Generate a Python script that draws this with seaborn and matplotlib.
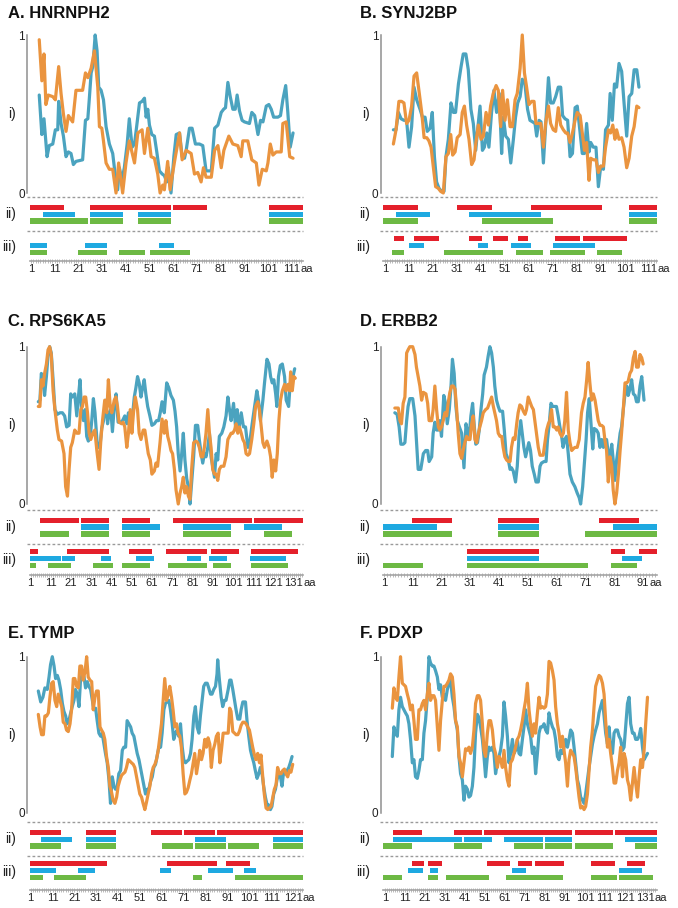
import matplotlib
matplotlib.use("Agg")
import matplotlib.pyplot as plt
import seaborn as sns
import pandas as pd
from matplotlib.ticker import FixedLocator, MultipleLocator

LINE_BLUE = "#4ba3bf"
LINE_ORANGE = "#ea943f"
BAR_COLORS = {"red": "#e4202b", "blue": "#1ea9e1", "green": "#6db944"}
GRAY = "#8f8f8f"

# ---------------- A. HNRNPH2 ----------------
a_title = "A. HNRNPH2"
a_span = (0.6, 115.8)
a_ticks = [1, 11, 21, 31, 41, 51, 61, 71, 81, 91, 101, 111]
a_blue = [(4.5, .62), (5.6, .37), (6.5, .47), (7.8, .23), (8.7, .30), (10.2, .31), (11.3, .40), (12.3, .40),
          (12.7, .58), (13.7, .44), (14.7, .36), (15.8, .23), (16.8, .26), (17.9, .25), (18.9, .18), (20, .20),
          (22.8, .21), (24, .46), (25, .47), (25.6, .59), (26.4, .76), (27.1, .80), (28.1, 1.0), (28.9, .90),
          (29.6, .67), (30.6, .65), (31.6, .59), (32.7, .42), (34.1, .31), (35.5, .25), (36.6, .11), (37.6, .02),
          (38.3, .16), (39.4, .08), (40.4, .16), (41.6, .31), (42.5, .47), (43.7, .29), (44.7, .31), (45.6, .42),
          (46.8, .57), (47.9, .58), (48.9, .60), (49.6, .48), (50.3, .53), (51, .43), (52, .37), (53.1, .36),
          (54.1, .26), (55.2, .14), (56.4, .12), (57.3, .11), (58.3, .07), (59, .16), (60.1, .0), (61.3, .23),
          (62.3, .37), (63.7, .38), (64.8, .23), (65.8, .22), (66.5, .27), (67.9, .41), (69, .41), (70.4, .31),
          (72.1, .31), (73.5, .30), (74.9, .14), (77.1, .14), (78.5, .41), (79.9, .43), (81.3, .51), (82.3, .53),
          (83.1, .54), (84.1, .70), (85.1, .61), (86.2, .53), (87.2, .53), (88, .62), (89, .52), (90.1, .46),
          (91.1, .45), (93.2, .44), (94.2, .51), (95.4, .49), (96.8, .37), (97.9, .46), (98.9, .45), (100.3, .55),
          (101.4, .56), (102.4, .53), (103.4, .48), (105.2, .48), (106.3, .49), (107.3, .59), (108.5, .68),
          (109.4, .51), (110.4, .29), (111.6, .38)]
a_orange = [(4.5, .97), (5.6, .71), (6.5, .88), (7.3, .56), (8.3, .62), (10.2, .61), (11.3, .59), (12.7, .80),
            (13.7, .63), (14.7, .50), (15.8, .39), (16.8, .49), (18.6, .45), (20, .65), (22.8, .65), (24, .76),
            (25, .73), (26.4, .79), (27.8, .90), (29.2, .67), (29.9, .42), (30.9, .41), (31.6, .33), (32.7, .19),
            (34.1, .15), (35.5, .15), (36.9, .0), (38, .19), (39.7, .0), (41.1, .19), (42.5, .33), (44.7, .19),
            (46.1, .38), (47.9, .40), (48.9, .25), (50.3, .41), (51.7, .23), (53.1, .22), (54.5, .12), (55.5, .0),
            (56.6, .05), (57.3, .02), (58.7, .20), (59.7, .02), (61.6, .20), (63.7, .38), (64.8, .21), (66.5, .27),
            (68.6, .25), (70, .12), (71.4, .13), (72.8, .07), (73.8, .16), (74.9, .10), (77.1, .10), (78.5, .27),
            (79.9, .30), (81.3, .16), (82.4, .27), (84.5, .36), (86.2, .31), (88.3, .30), (89.7, .23), (90.4, .33),
            (92.5, .33), (94.2, .21), (96.1, .19), (97.2, .05), (98.6, .15), (100.3, .14), (101, .19), (102, .31),
            (103.1, .24), (104.5, .26), (106.6, .26), (107.3, .44), (108.7, .45), (110.2, .23), (111.6, .22)]
a_ii_red = [(0.6, 14.8), (25.9, 60.2), (61.1, 75.2), (101.4, 115.8)]
a_ii_blue = [(5.9, 19.7), (25.9, 40), (46.1, 60.2), (101.4, 115.8)]
a_ii_green = [(0.6, 24.9), (25.9, 40), (46.1, 60.2), (101.4, 115.8)]
a_iii_red = []
a_iii_blue = [(0.6, 7.8), (24, 33), (55.2, 61.3)]
a_iii_green = [(0.6, 7.8), (21, 33), (38, 49.2), (51.3, 68.2)]

# ---------------- B. SYNJ2BP ----------------
b_title = "B. SYNJ2BP"
b_span = (0.3, 114.2)
b_ticks = [1, 11, 21, 31, 41, 51, 61, 71, 81, 91, 101, 111]
b_blue = [(4.5, .40), (5.6, .40), (6.6, .51), (7.7, .47), (8.9, .46), (10, .46), (11, .29), (12.1, .42), (13.1, .67),
          (14.2, .59), (15.6, .53), (16.6, .48), (17.7, .48), (18.6, .39), (19.8, .41), (20.7, .51), (21.6, .23),
          (22.5, .07), (23.5, .03), (24.6, .01), (25.6, .01), (26.4, .23), (27.4, .34), (28.5, .57), (29.5, .51),
          (30.4, .51), (31.6, .69), (32.7, .80), (33.6, .88), (34.7, .88), (35.7, .78), (36.8, .53), (37.8, .44),
          (38.8, .27), (39.6, .40), (40.6, .55), (41.6, .27), (42.4, .29), (43.4, .38), (44.3, .29), (45.4, .51),
          (46.4, .65), (47.5, .51), (48.6, .63), (49.6, .25), (50.3, .48), (51.3, .36), (52.4, .34), (53.4, .19),
          (54.5, .34), (55.4, .48), (56.3, .57), (57.3, .61), (58.2, .72), (59.3, .69), (60.4, .53), (61.4, .46),
          (62.5, .45), (63.5, .44), (64.2, .36), (65.2, .46), (66, .45), (67, .19), (67.9, .42), (69.1, .73),
          (70, .57), (71.1, .57), (72.1, .61), (73.2, .67), (74.2, .67), (75, .49), (76, .47), (77.1, .46),
          (78.1, .23), (79.1, .25), (80.2, .54), (81.1, .55), (82.3, .38), (83.2, .25), (84.1, .25), (85, .44),
          (86, .26), (86.7, .32), (87.8, .29), (88.9, .29), (89.9, .04), (90.9, .17), (92, .15), (92.9, .40),
          (94.1, .43), (94.8, .63), (95.7, .46), (96.6, .69), (97.5, .67), (98.5, .82), (99.6, .77), (100.6, .57),
          (101.7, .36), (102.7, .61), (103.8, .63), (104.8, .78), (105.9, .78), (106.8, .67)]
b_orange = [(4.5, .31), (5.6, .40), (6.8, .58), (7.9, .58), (8.9, .57), (10, .44), (11, .46), (12.1, .55),
            (13.1, .74), (14.2, .76), (15.3, .63), (16.3, .51), (17.3, .35), (18.4, .35), (19.3, .33), (20.2, .29),
            (21.1, .17), (22.1, .04), (23.2, .03), (24.2, .01), (25.3, .0), (26.4, .23), (27.4, .25), (28.4, .37),
            (29.2, .24), (30.2, .26), (31.1, .35), (32.3, .37), (33.2, .51), (34.1, .55), (35, .43), (36, .34),
            (37.1, .18), (38.1, .21), (38.9, .32), (39.9, .43), (41, .34), (42, .36), (43.1, .51), (44.1, .43),
            (45, .55), (46.1, .63), (47.3, .68), (48.2, .65), (49.2, .42), (50, .65), (51, .46), (52, .59),
            (53.1, .42), (54.1, .42), (55.2, .59), (56.1, .63), (57.3, .79), (58.2, 1.0), (59.1, .76), (60, .67),
            (61, .56), (62.1, .58), (63.1, .58), (63.9, .44), (64.9, .44), (65.9, .44), (67, .29), (67.9, .44),
            (69.1, .55), (70, .44), (71.1, .40), (72.1, .39), (73.2, .54), (74.2, .43), (75.3, .40), (76.3, .38),
            (77.1, .38), (78.1, .32), (79.1, .38), (80.2, .46), (81.1, .51), (82.3, .49), (83.2, .38), (84.1, .27),
            (85, .32), (86, .08), (86.7, .22), (87.8, .21), (88.9, .21), (89.9, .13), (90.9, .17), (92, .17),
            (92.9, .29), (94.1, .40), (95, .38), (95.9, .43), (96.8, .34), (97.5, .40), (98.5, .34), (99.6, .35),
            (100.6, .29), (101.7, .16), (102.7, .22), (103.8, .36), (104.8, .42), (105.9, .55), (106.8, .54)]
b_ii_red = [(0.3, 14.6), (31.1, 45.4), (61.8, 91.6), (102.8, 114.2)]
b_ii_blue = [(5.4, 19.8), (36.1, 65.9), (102.8, 114.2)]
b_ii_green = [(0.3, 14.6), (41.3, 70.9), (102.8, 114.2)]
b_iii_red = [(4.9, 9.1), (13.2, 23.5), (35.9, 41.3), (46.1, 52.4), (56.6, 60.7), (72, 82.3), (83.4, 102)]
b_iii_blue = [(11.1, 17.4), (39.9, 44.1), (53.4, 61.7), (70.9, 88.5)]
b_iii_green = [(3.8, 9.1), (25.6, 50.3), (55.4, 66.7), (69.9, 84.3), (89.5, 99.9)]

# ---------------- C. RPS6KA5 ----------------
c_title = "C. RPS6KA5"
c_span = (0.7, 135.5)
c_ticks = [1, 11, 21, 31, 41, 51, 61, 71, 81, 91, 101, 111, 121, 131]
c_blue = [(4.8, .65), (5.6, .66), (6.3, .83), (7.1, .79), (7.9, .69), (8.8, .81), (9.6, .94), (10.4, 1.0),
          (11.2, .96), (12.1, .79), (13, .60), (14.2, .57), (15.5, .58), (16.7, .58), (17.8, .56), (18.8, .49),
          (20, .50), (20.8, .70), (21.6, .68), (22.8, .70), (23.8, .56), (24.6, .68), (25.4, .79), (26.2, .58),
          (27.1, .53), (27.9, .60), (28.7, .43), (29.5, .40), (30.4, .42), (31.2, .53), (32, .67), (32.8, .58),
          (34, .36), (35.2, .36), (36.1, .48), (37, .53), (38.1, .66), (39, .51), (39.8, .58), (40.6, .60),
          (41.4, .46), (42.3, .62), (43.2, .70), (44.2, .52), (45.2, .52), (46.4, .53), (47.5, .56), (48.5, .51),
          (49.3, .58), (50.5, .51), (51.3, .56), (52.2, .68), (53, .74), (53.8, .81), (54.6, .77), (55.5, .68),
          (56.3, .74), (57.1, .79), (57.9, .70), (58.8, .62), (59.9, .56), (60.9, .50), (62.1, .51), (63.2, .53),
          (64.2, .53), (65, .58), (65.9, .65), (67, .58), (68.2, .77), (69.2, .74), (70.3, .69), (71.5, .66),
          (72.3, .59), (73.1, .49), (73.9, .32), (74.8, .21), (75.6, .32), (76.4, .45), (77.2, .28), (78.1, .16),
          (78.9, .11), (79.7, .0), (80.5, .13), (81.5, .30), (82.4, .50), (83.5, .50), (84.3, .41), (85.2, .32),
          (86, .26), (86.8, .32), (87.6, .30), (88.5, .36), (89.3, .45), (90.1, .30), (90.9, .24), (91.8, .17),
          (92.6, .32), (93.4, .28), (94.2, .43), (95.4, .45), (96.4, .49), (97.5, .56), (98.4, .68), (99.2, .60),
          (100, .53), (101.2, .64), (102.2, .49), (103, .60), (103.8, .47), (105, .58), (106.1, .49), (107.1, .49),
          (108.3, .36), (109.4, .41), (110.4, .51), (111.6, .62), (112.7, .72), (113.5, .66), (114.5, .53),
          (115.7, .66), (116.5, .77), (117.7, .92), (118.7, .89), (119.5, .81), (120.3, .77), (121.1, .79),
          (122, .70), (122.6, .62), (123.4, .81), (124.3, .88), (125.3, .89), (126.4, .81), (127.2, .66),
          (128.4, .62), (129.2, .77), (130.2, .79), (131.4, .86)]
c_orange = [(4.8, .62), (5.6, .62), (6.3, .79), (7.1, .75), (7.9, .83), (8.8, .89), (9.6, .98), (10.4, 1.0),
            (11.2, .95), (12.1, .72), (13, .60), (14.2, .47), (15, .41), (16.3, .40), (17.5, .32), (18.3, .11),
            (19.2, .05), (20, .22), (20.8, .36), (21.6, .39), (22.8, .47), (23.8, .45), (24.9, .45), (25.8, .60),
            (26.6, .62), (27.4, .68), (28.2, .68), (29.1, .58), (29.9, .45), (30.7, .41), (31.7, .45), (32.7, .47),
            (33.7, .34), (34.8, .22), (35.7, .41), (36.5, .53), (37.6, .66), (38.6, .58), (39.4, .79), (40.3, .62),
            (41.1, .58), (42.3, .66), (43.1, .68), (43.9, .62), (44.7, .52), (45.9, .51), (46.7, .52), (47.5, .49),
            (48.5, .36), (49.3, .45), (50.2, .60), (51, .45), (51.8, .58), (52.7, .68), (53.8, .60), (54.6, .45),
            (55.5, .41), (56.6, .47), (57.4, .47), (58.3, .39), (59.1, .32), (60.1, .28), (60.9, .19), (62.1, .21),
            (62.9, .26), (63.7, .24), (64.9, .39), (65.9, .54), (67, .45), (67.8, .53), (68.7, .43), (69.5, .39),
            (70.3, .34), (71.1, .32), (72, .22), (72.8, .09), (73.9, .0), (74.8, .07), (75.6, .11), (76.4, .17),
            (77.2, .07), (78.1, .11), (78.9, .05), (79.7, .03), (80.5, .22), (81.5, .39), (82.7, .40), (83.5, .39),
            (84.3, .36), (85.2, .30), (86, .30), (86.8, .36), (87.6, .45), (88.5, .60), (89.3, .45), (90.1, .36),
            (90.9, .22), (91.8, .19), (92.6, .19), (93.4, .15), (94.2, .22), (95.1, .24), (96.4, .24), (97.5, .30),
            (98.4, .41), (100, .45), (100.8, .45), (101.7, .47), (102.5, .51), (103.3, .45), (104.1, .49),
            (105, .45), (105.8, .41), (106.6, .39), (107.4, .32), (108.3, .31), (109.1, .32), (110.2, .41),
            (111.2, .51), (112.1, .62), (113.2, .65), (114, .60), (114.9, .49), (115.7, .39), (116.5, .36),
            (117.7, .40), (118.7, .36), (119.5, .30), (120.3, .17), (121.1, .28), (122, .21), (122.8, .32),
            (123.6, .53), (124.4, .66), (125.3, .72), (126.4, .76), (127.2, .72), (128.1, .76), (128.9, .72),
            (129.4, .84), (130.2, .72), (131, .81), (131.7, .80)]
c_ii_red = [(5.6, 24.9), (25.8, 39.8), (45.9, 59.9), (71.1, 110.2), (111.2, 135.5)]
c_ii_blue = [(25.8, 39.8), (45.9, 65), (76.1, 100), (106.3, 125.3)]
c_ii_green = [(5.6, 20), (25.8, 39.8), (45.9, 59.9), (76.1, 100), (116.2, 130.2)]
c_iii_red = [(0.7, 4.6), (18.8, 39.8), (49.8, 60.9), (67.8, 88), (90.1, 104.1), (109.9, 133)]
c_iii_blue = [(0.7, 15.9), (16.7, 22.8), (35.7, 40.9), (53, 61.7), (78.1, 85.2), (89, 98), (109.1, 127.2)]
c_iii_green = [(0.7, 3.5), (9.7, 20.8), (31.9, 41.9), (45.9, 59.9), (69, 88), (91.3, 100), (109.9, 128.1)]

# ---------------- D. ERBB2 ----------------
d_title = "D. ERBB2"
d_span = (0.8, 95.7)
d_ticks = [1, 11, 21, 31, 41, 51, 61, 71, 81, 91]
d_blue = [(4.8, .58), (5.6, .57), (6.3, .49), (6.9, .38), (7.7, .38), (8.3, .39), (8.9, .53), (9.4, .62), (10, .67),
          (11, .67), (11.8, .56), (12.3, .41), (12.9, .22), (13.8, .22), (14.7, .32), (15.5, .34), (16.2, .34),
          (16.7, .27), (17.6, .30), (18.1, .45), (18.7, .52), (19.3, .47), (19.9, .47), (20.4, .53), (21, .43),
          (21.8, .69), (22.4, .64), (23, .51), (23.7, .60), (24.3, .75), (24.8, .92), (25.4, .83), (26, .62),
          (26.5, .53), (27.2, .49), (28, .45), (28.8, .23), (29.5, .51), (30.1, .45), (30.6, .43), (31.2, .56),
          (31.8, .64), (32.4, .49), (32.9, .38), (33.5, .39), (34.1, .47), (34.7, .60), (35.3, .70), (35.8, .82),
          (36.6, .87), (37.2, .94), (37.8, 1.0), (38.4, .96), (39, .87), (39.5, .75), (40.1, .66), (40.7, .62),
          (41.3, .59), (42.2, .59), (42.8, .47), (43.4, .32), (44.2, .28), (44.8, .22), (45.3, .23), (45.9, .21),
          (46.7, .14), (47.3, .24), (47.9, .43), (48.5, .53), (49, .45), (49.6, .36), (50.2, .30), (50.8, .35),
          (51.3, .39), (51.9, .34), (52.5, .24), (53.2, .19), (53.8, .14), (54.6, .14), (55.2, .24), (55.7, .26),
          (56.6, .27), (57.3, .27), (57.8, .41), (58.4, .51), (59, .64), (59.6, .62), (60.1, .62), (60.9, .62),
          (61.5, .56), (62.1, .49), (62.7, .43), (63.2, .36), (63.8, .41), (64.4, .43), (65, .32), (65.6, .19),
          (66.4, .14), (67.3, .11), (68.1, .07), (68.8, .04), (69.3, .0), (70, .11), (70.6, .26), (71.2, .41),
          (71.7, .58), (72.3, .67), (72.9, .51), (73.5, .35), (74, .48), (74.8, .47), (75.4, .45), (76, .36),
          (76.6, .41), (77.2, .36), (77.7, .41), (78.3, .41), (78.9, .32), (79.5, .30), (80.1, .38), (80.6, .28),
          (81.2, .15), (81.8, .28), (82.4, .36), (83, .45), (83.5, .49), (84.1, .60), (84.7, .70), (85.3, .75),
          (85.8, .69), (86.4, .73), (87, .79), (87.6, .70), (88.2, .69), (88.7, .65), (89.3, .65), (89.9, .75),
          (90.5, .81), (91.3, .66)]
d_orange = [(4.8, .61), (6, .61), (6.6, .53), (7.1, .51), (7.7, .64), (8.3, .68), (8.9, .96), (9.4, .98), (10, 1.0),
            (11, 1.0), (11.8, .95), (12.3, .87), (12.9, .81), (13.5, .75), (14.1, .66), (14.7, .71), (15.6, .70),
            (16.2, .64), (16.7, .53), (17.6, .53), (18.1, .60), (18.7, .75), (19.3, .60), (19.9, .49), (20.4, .47),
            (21, .49), (21.6, .53), (22.2, .58), (22.8, .56), (23.3, .64), (23.9, .71), (24.5, .75), (25.1, .75),
            (25.7, .73), (26.2, .62), (26.8, .45), (27.4, .32), (28, .29), (28.5, .34), (29.1, .39), (29.7, .43),
            (30.3, .41), (30.9, .41), (31.4, .50), (32, .56), (32.6, .41), (33.2, .39), (33.8, .45), (34.3, .49),
            (34.9, .53), (35.5, .58), (36.3, .60), (37, .61), (37.6, .64), (38.4, .68), (39, .62), (39.5, .58),
            (40.1, .53), (40.7, .45), (41.3, .43), (41.9, .43), (42.4, .36), (43, .30), (43.6, .28), (44.2, .27),
            (44.8, .27), (45.3, .36), (45.9, .42), (46.5, .41), (47.1, .51), (47.6, .58), (48.2, .63), (48.8, .62),
            (49.4, .59), (50, .57), (50.5, .60), (51.1, .68), (51.7, .65), (52.3, .62), (52.9, .60), (53.4, .53),
            (54, .45), (54.6, .36), (55.2, .31), (56.3, .31), (56.9, .39), (57.5, .47), (58.1, .51), (58.6, .53),
            (59.2, .60), (59.8, .49), (60.4, .49), (61, .47), (61.5, .49), (62.1, .45), (62.7, .43), (63.3, .45),
            (63.8, .53), (64.4, .71), (65, .47), (65.6, .39), (66.2, .34), (66.7, .35), (67.3, .36), (68.1, .36),
            (68.8, .41), (69.6, .58), (70.2, .64), (70.8, .68), (71.4, .79), (71.9, .90), (72.5, .77), (73.1, .66),
            (73.7, .70), (74.3, .66), (74.8, .60), (75.4, .53), (76, .50), (76.6, .50), (77.2, .49), (77.7, .41),
            (78.3, .34), (78.9, .14), (79.5, .30), (80.1, .24), (80.6, .09), (81.2, .0), (81.8, .07), (82.4, .19),
            (83, .34), (83.5, .45), (84.1, .60), (84.7, .77), (85.3, .77), (85.8, .78), (86.4, .83), (87, .85),
            (87.6, .93), (88.2, .97), (88.7, .87), (89.3, .87), (89.9, .95), (90.5, .93), (91, .89)]
d_ii_red = [(10.8, 24.7), (40.7, 54.8), (75.8, 89.7)]
d_ii_blue = [(0.8, 19.6), (40.7, 54.8), (80.6, 95.7)]
d_ii_green = [(0.8, 24.7), (40.7, 54.8), (70.8, 95.7)]
d_iii_red = [(29.7, 54.8), (79.7, 84.7), (89.7, 95.7)]
d_iii_blue = [(29.7, 54.8), (83.8, 90.7)]
d_iii_green = [(0.8, 14.7), (29.7, 71.7), (79.7, 88.7)]

# ---------------- E. TYMP ----------------
e_title = "E. TYMP"
e_span = (0.7, 125.5)
e_ticks = [1, 11, 21, 31, 41, 51, 61, 71, 81, 91, 101, 111, 121]
e_blue = [(4.5, .78), (5.6, .71), (6.6, .74), (7.5, .80), (8.6, .79), (9.4, .87), (10.1, .95), (10.9, 1.0),
          (11.7, .94), (12.4, .86), (13.2, .88), (13.9, .85), (14.7, .79), (15.5, .70), (16.2, .65), (17, .62),
          (17.7, .57), (18.5, .59), (19.3, .64), (20, .68), (20.8, .72), (21.5, .79), (22.3, .76), (23.1, .68),
          (23.8, .85), (24.6, .89), (25.4, .87), (26.1, .80), (26.9, .84), (27.6, .81), (28.4, .79), (29.2, .72),
          (29.9, .66), (30.7, .67), (31.4, .59), (32.2, .51), (33, .49), (33.7, .51), (34.5, .44), (35.2, .38),
          (36, .32), (36.8, .21), (37.5, .06), (38.3, .23), (39.1, .17), (39.8, .15), (40.6, .17), (41.3, .25),
          (42.1, .27), (42.9, .40), (43.6, .42), (44.4, .42), (45.1, .59), (45.9, .57), (46.7, .55), (47.4, .51),
          (48.2, .49), (48.9, .44), (49.7, .38), (50.5, .34), (51.2, .29), (52, .23), (52.8, .17), (53.5, .12),
          (54.3, .15), (55, .15), (55.8, .20), (56.6, .23), (57.3, .29), (58.1, .31), (58.8, .36), (59.6, .42),
          (60.4, .42), (61.1, .51), (61.9, .66), (62.6, .70), (63.4, .71), (64.2, .72), (64.9, .66), (65.7, .57),
          (66.4, .47), (67.2, .51), (68, .53), (68.7, .49), (69.5, .57), (70.3, .42), (71, .34), (71.8, .32),
          (72.5, .33), (73.3, .34), (74.1, .38), (74.8, .47), (75.6, .62), (76.3, .68), (77.1, .55), (77.9, .51),
          (78.6, .62), (79.4, .72), (80.1, .81), (80.9, .83), (81.7, .83), (82.4, .80), (83.2, .76), (83.9, .76),
          (84.7, .79), (85.5, .81), (86.2, .89), (86.5, .98), (87.3, .85), (88.1, .74), (88.8, .68), (89.6, .72),
          (90.3, .72), (91.3, .79), (92, .85), (92.6, .85), (93.4, .79), (94.2, .72), (94.9, .66), (95.7, .60),
          (96.6, .60), (97.2, .66), (98, .71), (99.2, .71), (99.9, .59), (100.7, .49), (101.5, .40), (102.2, .36),
          (103, .32), (103.7, .27), (104.5, .22), (105.3, .25), (106, .29), (106.8, .25), (107.5, .17),
          (108.3, .10), (109.1, .05), (109.8, .05), (110.6, .02), (111.3, .04), (112.1, .12), (112.9, .15),
          (113.6, .21), (114.4, .25), (115.2, .23), (115.9, .17), (116.7, .27), (117.4, .25), (118.2, .27),
          (119, .29), (119.7, .32), (120.5, .36)]
e_orange = [(4.5, .63), (5.3, .55), (6, .50), (6.8, .50), (7.5, .62), (8.3, .62), (9.1, .64), (9.8, .74), (10.6, .83),
            (11.3, .84), (12.1, .72), (12.9, .68), (13.6, .76), (14.4, .72), (15.2, .68), (15.9, .58), (16.7, .57),
            (17.4, .53), (18.2, .52), (19, .57), (19.7, .66), (20.5, .86), (21.2, .86), (22, .81), (22.8, .80),
            (23.5, .94), (24.3, .94), (25, .85), (25.8, .90), (26.6, 1.0), (27.3, .87), (28.1, .85), (28.9, .84),
            (29.6, .66), (30.4, .74), (31.1, .78), (31.9, .78), (32.7, .55), (33.4, .53), (34.2, .51), (34.9, .47),
            (35.7, .36), (36.5, .29), (37.2, .17), (38, .13), (38.7, .08), (39.5, .06), (40.3, .10), (41, .17),
            (41.8, .21), (42.6, .24), (43.3, .25), (44.1, .26), (44.8, .29), (45.6, .34), (46.4, .33), (47.1, .32),
            (47.9, .31), (48.6, .29), (49.4, .23), (50.2, .17), (50.9, .12), (51.7, .10), (52.4, .06), (53.2, .02),
            (54, .07), (54.7, .12), (55.5, .17), (56.3, .25), (57, .29), (57.8, .31), (58.5, .34), (59.3, .40),
            (60.1, .49), (60.8, .57), (61.6, .72), (62.3, .86), (63.1, .72), (63.9, .76), (64.6, .81), (65.4, .74),
            (66.1, .66), (66.9, .55), (67.7, .57), (68.4, .51), (69.2, .49), (69.9, .42), (70.7, .25), (71.5, .12),
            (72.2, .13), (73, .16), (73.8, .21), (74.5, .25), (75.3, .32), (76, .38), (76.8, .25), (77.6, .32),
            (78.3, .40), (79.1, .34), (79.8, .38), (80.6, .47), (81.4, .42), (82.1, .48), (82.9, .44), (83.6, .29),
            (84.4, .40), (85.2, .44), (85.9, .49), (86.7, .51), (87.5, .32), (88.2, .40), (89, .51), (89.7, .51),
            (90.5, .51), (91.3, .51), (92, .67), (92.6, .65), (93.4, .52), (94.2, .51), (94.9, .50), (95.7, .50),
            (96.4, .52), (97.2, .56), (98, .58), (98.7, .58), (99.5, .57), (100.2, .55), (101, .53), (101.8, .47),
            (102.5, .42), (103.3, .37), (104, .34), (104.8, .38), (105.6, .32), (106.3, .37), (107.1, .23),
            (107.8, .12), (108.6, .03), (109.4, .02), (110.1, .03), (110.9, .04), (111.7, .10), (112.4, .15),
            (113.2, .18), (113.9, .29), (114.7, .25), (115.5, .25), (116.2, .27), (117, .28), (117.7, .25),
            (118.5, .23), (119.3, .27), (120, .26), (120.8, .31)]
e_ii_red = [(0.7, 14.7), (26.1, 39.8), (56.1, 70.3), (71.3, 85.2), (86.2, 125.5)]
e_ii_blue = [(5.9, 19.7), (26.1, 39.8), (76.3, 90.3), (111.7, 125.5)]
e_ii_green = [(0.7, 14.7), (26.1, 39.8), (61.1, 75.1), (76.3, 90.3), (91.3, 105.3), (111.7, 125.5)]
e_iii_red = [(0.7, 35.7), (63.1, 86.2), (90.3, 101.2)]
e_iii_blue = [(0.7, 12.7), (22.8, 30.4), (60.1, 65.2), (82.1, 93.4), (98.4, 104.2)]
e_iii_green = [(0.7, 6.8), (11.7, 26.1), (75.1, 79.4), (94.3, 125.5)]

# ---------------- F. PDXP ----------------
f_title = "F. PDXP"
f_span = (0.2, 136.8)
f_ticks = [1, 11, 21, 31, 41, 51, 61, 71, 81, 91, 101, 111, 121, 131]
f_blue = [(4.7, .36), (5.5, .55), (6.3, .51), (7.2, .49), (8, .66), (8.8, .74), (9.7, .68), (10.5, .66), (11.3, .64),
          (12.2, .62), (13, .57), (13.8, .47), (14.7, .32), (15.5, .34), (16.3, .23), (17.2, .22), (18, .27),
          (18.8, .34), (19.7, .34), (20.5, .51), (21.3, .59), (22.2, .74), (23, 1.0), (23.8, .96), (24.7, .94),
          (25.5, .94), (26.3, .91), (27.2, .87), (28, .79), (28.8, .82), (29.7, .74), (30.5, .76), (31.3, .72),
          (32.2, .79), (33, .83), (33.8, .85), (34.7, .74), (35.5, .68), (36.3, .59), (37.2, .53), (38, .36),
          (38.8, .25), (39.7, .21), (40.5, .08), (41.3, .17), (42.2, .15), (43, .10), (43.8, .11), (44.7, .17),
          (45.5, .29), (46.3, .51), (47.2, .63), (48, .61), (48.8, .55), (49.7, .47), (50.5, .36), (51.3, .23),
          (52.2, .36), (53, .42), (53.8, .40), (54.7, .42), (55.5, .38), (56.3, .25), (57.2, .32), (58, .36),
          (58.8, .40), (59.7, .49), (60.5, .71), (61.3, .62), (62.2, .49), (63, .32), (63.8, .38), (64.7, .47),
          (65.5, .38), (66.3, .40), (67.2, .47), (68, .38), (68.8, .37), (69.7, .47), (70.5, .55), (71.3, .66),
          (72.2, .57), (73, .53), (73.8, .49), (74.7, .38), (75.5, .42), (76.3, .25), (77.2, .38), (78, .51),
          (78.8, .55), (79.7, .55), (80.5, .57), (81.3, .53), (82.2, .51), (83, .64), (83.8, .59), (84.7, .55),
          (85.5, .53), (86.3, .47), (87.2, .36), (88, .34), (88.8, .40), (89.7, .38), (90.5, .42), (91.3, .47),
          (92.2, .42), (93, .47), (93.8, .53), (94.7, .51), (95.5, .42), (96.3, .32), (97.2, .21), (98, .17),
          (98.8, .10), (99.7, .08), (100.5, .06), (101.3, .12), (102.2, .21), (103, .29), (103.8, .36),
          (104.7, .44), (105.5, .49), (106.3, .53), (107.2, .57), (108, .64), (108.8, .68), (109.7, .72),
          (110.5, .62), (111.3, .51), (112.2, .44), (113, .55), (113.8, .42), (114.7, .38), (115.5, .51),
          (116.3, .53), (117.2, .53), (118, .49), (118.8, .47), (119.7, .40), (120.5, .42), (121.3, .55),
          (122.2, .70), (123, .74), (123.8, .57), (124.7, .51), (125.5, .51), (126.3, .47), (127.2, .47),
          (128, .49), (128.8, .54), (129.7, .42), (130.5, .34), (131.3, .36), (132.2, .38)]
f_orange = [(4.7, .67), (5.5, .80), (6.3, .74), (7.2, .72), (8, .87), (8.8, 1.0), (9.7, .83), (10.5, .82), (11.3, .81),
            (12.2, .76), (13, .72), (13.8, .66), (14.7, .69), (15.5, .59), (16.3, .47), (17.2, .47), (18, .66),
            (18.8, .66), (19.7, .70), (20.5, .72), (21.3, .66), (22.2, .76), (23, .83), (23.8, .72), (24.7, .75),
            (25.5, .75), (26.3, .72), (27.2, .55), (28, .40), (28.8, .59), (29.7, .72), (30.5, .81), (31.3, .81),
            (32.2, .83), (33, .85), (33.8, .89), (34.7, .87), (35.5, .76), (36.3, .59), (37.2, .55), (38, .36),
            (38.8, .32), (39.7, .23), (40.5, .32), (41.3, .41), (42.2, .40), (43, .42), (43.8, .38), (44.7, .42),
            (45.5, .53), (46.3, .70), (47.2, .75), (48, .75), (48.8, .72), (49.7, .57), (50.5, .40), (51.3, .36),
            (52.2, .51), (53, .59), (53.8, .59), (54.7, .53), (55.5, .42), (56.3, .38), (57.2, .29), (58, .36),
            (58.8, .34), (59.7, .29), (60.5, .40), (61.3, .29), (62.2, .21), (63, .17), (63.8, .32), (64.7, .34),
            (65.5, .38), (66.3, .42), (67.2, .47), (68, .49), (68.8, .53), (69.7, .59), (70.5, .66), (71.3, .72),
            (72.2, .83), (73, .66), (73.8, .57), (74.7, .49), (75.5, .57), (76.3, .51), (77.2, .64), (78, .74),
            (78.8, .67), (79.7, .68), (80.5, .67), (81.3, .68), (82.2, .76), (83, .97), (83.8, .96), (84.7, .91),
            (85.5, .85), (86.3, .68), (87.2, .57), (88, .51), (88.8, .42), (89.7, .49), (90.5, .40), (91.3, .32),
            (92.2, .17), (93, .34), (93.8, .40), (94.7, .38), (95.5, .36), (96.3, .29), (97.2, .19), (98, .10),
            (98.8, .03), (99.7, .04), (100.5, .02), (101.3, .04), (102.2, .12), (103, .27), (103.8, .42),
            (104.7, .53), (105.5, .68), (106.3, .81), (107.2, .85), (108, .88), (108.8, .87), (109.7, .83),
            (110.5, .76), (111.3, .59), (112.2, .42), (113, .47), (113.8, .38), (114.7, .29), (115.5, .19),
            (116.3, .19), (117.2, .27), (118, .32), (118.8, .42), (119.7, .23), (120.5, .38), (121.3, .34),
            (122.2, .21), (123, .17), (123.8, .08), (124.7, .19), (125.5, .29), (126.3, .19), (127.2, .10),
            (128, .23), (128.8, .34), (129.7, .29), (130.5, .40), (131.3, .57), (132.2, .74)]
f_ii_red = [(5.2, 19.3), (35.7, 49.3), (50.7, 94.7), (96, 114.8), (116, 136.8)]
f_ii_blue = [(5.2, 39.3), (40.5, 54.7), (60.7, 79.8), (81, 94.7), (121, 136.8)]
f_ii_green = [(0.2, 14.3), (35.7, 49.3), (65.7, 79.8), (81, 94.7), (96, 114.8), (126, 136.8)]
f_iii_red = [(14.3, 20.5), (22.3, 29.3), (51.8, 63.5), (67.7, 74.7), (76, 90.7), (103.8, 116), (122.2, 131)]
f_iii_blue = [(12.3, 20.2), (23.5, 27.3), (64.7, 71.5), (118, 129.3)]
f_iii_green = [(0.2, 9.3), (22.3, 27.3), (31.5, 53), (61.5, 89.8), (103.8, 116.8), (118, 135.2)]


def bars(ii_r, ii_b, ii_g, iii_r, iii_b, iii_g):
    return {("ii", "red"): ii_r, ("ii", "blue"): ii_b, ("ii", "green"): ii_g,
            ("iii", "red"): iii_r, ("iii", "blue"): iii_b, ("iii", "green"): iii_g}


panels = [
    dict(title=a_title, span=a_span, ticks=a_ticks, blue=a_blue, orange=a_orange,
         bars=bars(a_ii_red, a_ii_blue, a_ii_green, a_iii_red, a_iii_blue, a_iii_green)),
    dict(title=b_title, span=b_span, ticks=b_ticks, blue=b_blue, orange=b_orange,
         bars=bars(b_ii_red, b_ii_blue, b_ii_green, b_iii_red, b_iii_blue, b_iii_green)),
    dict(title=c_title, span=c_span, ticks=c_ticks, blue=c_blue, orange=c_orange,
         bars=bars(c_ii_red, c_ii_blue, c_ii_green, c_iii_red, c_iii_blue, c_iii_green)),
    dict(title=d_title, span=d_span, ticks=d_ticks, blue=d_blue, orange=d_orange,
         bars=bars(d_ii_red, d_ii_blue, d_ii_green, d_iii_red, d_iii_blue, d_iii_green)),
    dict(title=e_title, span=e_span, ticks=e_ticks, blue=e_blue, orange=e_orange,
         bars=bars(e_ii_red, e_ii_blue, e_ii_green, e_iii_red, e_iii_blue, e_iii_green)),
    dict(title=f_title, span=f_span, ticks=f_ticks, blue=f_blue, orange=f_orange,
         bars=bars(f_ii_red, f_ii_blue, f_ii_green, f_iii_red, f_iii_blue, f_iii_green)),
]

# layout in pixels
FIG_W, FIG_H = 678, 908
COL_X = [(30, 303), (383.3, 656.7)]
TITLE_X = [8, 360]
LABEL_X = [16, 370]
ROWS = [
    dict(title=13, top=35, bottom=193, sep=197.3, axis=261),
    dict(title=322, top=346.7, bottom=504, sep=510, axis=575),
    dict(title=633, top=656.7, bottom=812.7, sep=822.3, axis=890),
]
BAR_ROWS = {"ii": [10.3, 17.0, 23.8], "iii": [41.2, 48.2, 55.2]}
SEP2 = 33.8
BAR_H = 5.4


def rect(x0, y0, x1, y1):
    return [x0 / FIG_W, 1 - y1 / FIG_H, (x1 - x0) / FIG_W, (y1 - y0) / FIG_H]


sns.set_theme(style="white")
plt.rcParams["font.family"] = ["Liberation Sans", "DejaVu Sans"]

fig = plt.figure(figsize=(FIG_W / 100, FIG_H / 100), dpi=100)
aa_targets = []


def draw_panel(p, col, row):
    x0, x1 = COL_X[col]
    r = ROWS[row]
    fig.text(TITLE_X[col] / FIG_W, 1 - r["title"] / FIG_H, p["title"], fontsize=12,
             fontweight="bold", ha="left", va="center", color="#111")

    # profile plot
    ax = fig.add_axes(rect(x0, r["top"], x1, r["bottom"]))
    ax.patch.set_alpha(0)
    for pairs, c in ((p["blue"], LINE_BLUE), (p["orange"], LINE_ORANGE)):
        df = pd.DataFrame(pairs, columns=["pos", "score"])
        sns.lineplot(data=df, x="pos", y="score", color=c, linewidth=2.3,
                     estimator=None, sort=False, ax=ax)
    for ln in ax.lines:
        ln.set_clip_on(False)
    ax.set_xlim(p["span"])
    ax.set_ylim(0, 1)
    ax.set_xlabel("")
    ax.set_ylabel("")
    for s in ("top", "right", "bottom"):
        ax.spines[s].set_visible(False)
    ax.spines["left"].set_color(GRAY)
    ax.spines["left"].set_linewidth(1.1)
    ax.spines["left"].set_position(("outward", 2))
    ax.set_xticks([])
    ax.set_yticks([0, 1])
    ax.set_yticklabels(["0", "1"])
    ax.tick_params(axis="y", direction="in", length=2, width=1, color=GRAY,
                   pad=1.5, labelsize=8.5, labelcolor="#222")
    fig.text(LABEL_X[col] / FIG_W, 1 - (r["top"] + r["bottom"]) / 2 / FIG_H, "i)",
             ha="right", va="center", fontsize=10, color="#222")

    # domain bars
    bx = fig.add_axes(rect(x0, r["sep"], x1, r["axis"]))
    bx.patch.set_alpha(0)
    bx.set_xlim(p["span"])
    bx.set_ylim(r["axis"] - r["sep"], 0)
    for sec in ("ii", "iii"):
        for yc, cname in zip(BAR_ROWS[sec], ("red", "blue", "green")):
            spans = p["bars"][(sec, cname)]
            if spans:
                bx.barh([yc] * len(spans), [e - s for s, e in spans], left=[s for s, e in spans],
                        height=BAR_H, color=BAR_COLORS[cname], linewidth=0)
    for yy in (0, SEP2):
        bx.plot([-0.012, 1.0], [yy, yy], transform=bx.get_yaxis_transform(), color="#9a9a9a",
                lw=1, ls=(0, (2, 1.6)), clip_on=False)
    fig.text(LABEL_X[col] / FIG_W, 1 - (r["sep"] + BAR_ROWS["ii"][1]) / FIG_H, "ii)",
             ha="right", va="center", fontsize=10, color="#222")
    fig.text(LABEL_X[col] / FIG_W, 1 - (r["sep"] + BAR_ROWS["iii"][1] + 1.5) / FIG_H, "iii)",
             ha="right", va="center", fontsize=10, color="#222")
    for s in ("top", "right", "left"):
        bx.spines[s].set_visible(False)
    bx.spines["bottom"].set_color("#a5a5a5")
    bx.spines["bottom"].set_linewidth(1.2)
    bx.set_yticks([])
    bx.xaxis.set_major_locator(FixedLocator(p["ticks"]))
    bx.set_xticklabels([str(t) for t in p["ticks"]])
    bx.xaxis.set_minor_locator(MultipleLocator(1))
    bx.xaxis.remove_overlapping_locs = False
    bx.tick_params(axis="x", which="major", length=0, pad=2.5, labelsize=8, labelcolor="#222")
    bx.tick_params(axis="x", which="minor", length=2.6, width=0.6, direction="inout",
                   color="#b0b0b0", bottom=True)
    aa_targets.append((bx, str(p["ticks"][-1])))


for i, p in enumerate(panels):
    draw_panel(p, i % 2, i // 2)

fig.canvas.draw()
for bx, last in aa_targets:
    lab = [t for t in bx.get_xticklabels() if t.get_text() == last][0]
    bb = lab.get_window_extent()
    fig.text(bb.x1 / FIG_W, bb.y1 / FIG_H, "aa", ha="left", va="top", fontsize=8, color="#222")

fig.savefig("out.png", dpi=100)
